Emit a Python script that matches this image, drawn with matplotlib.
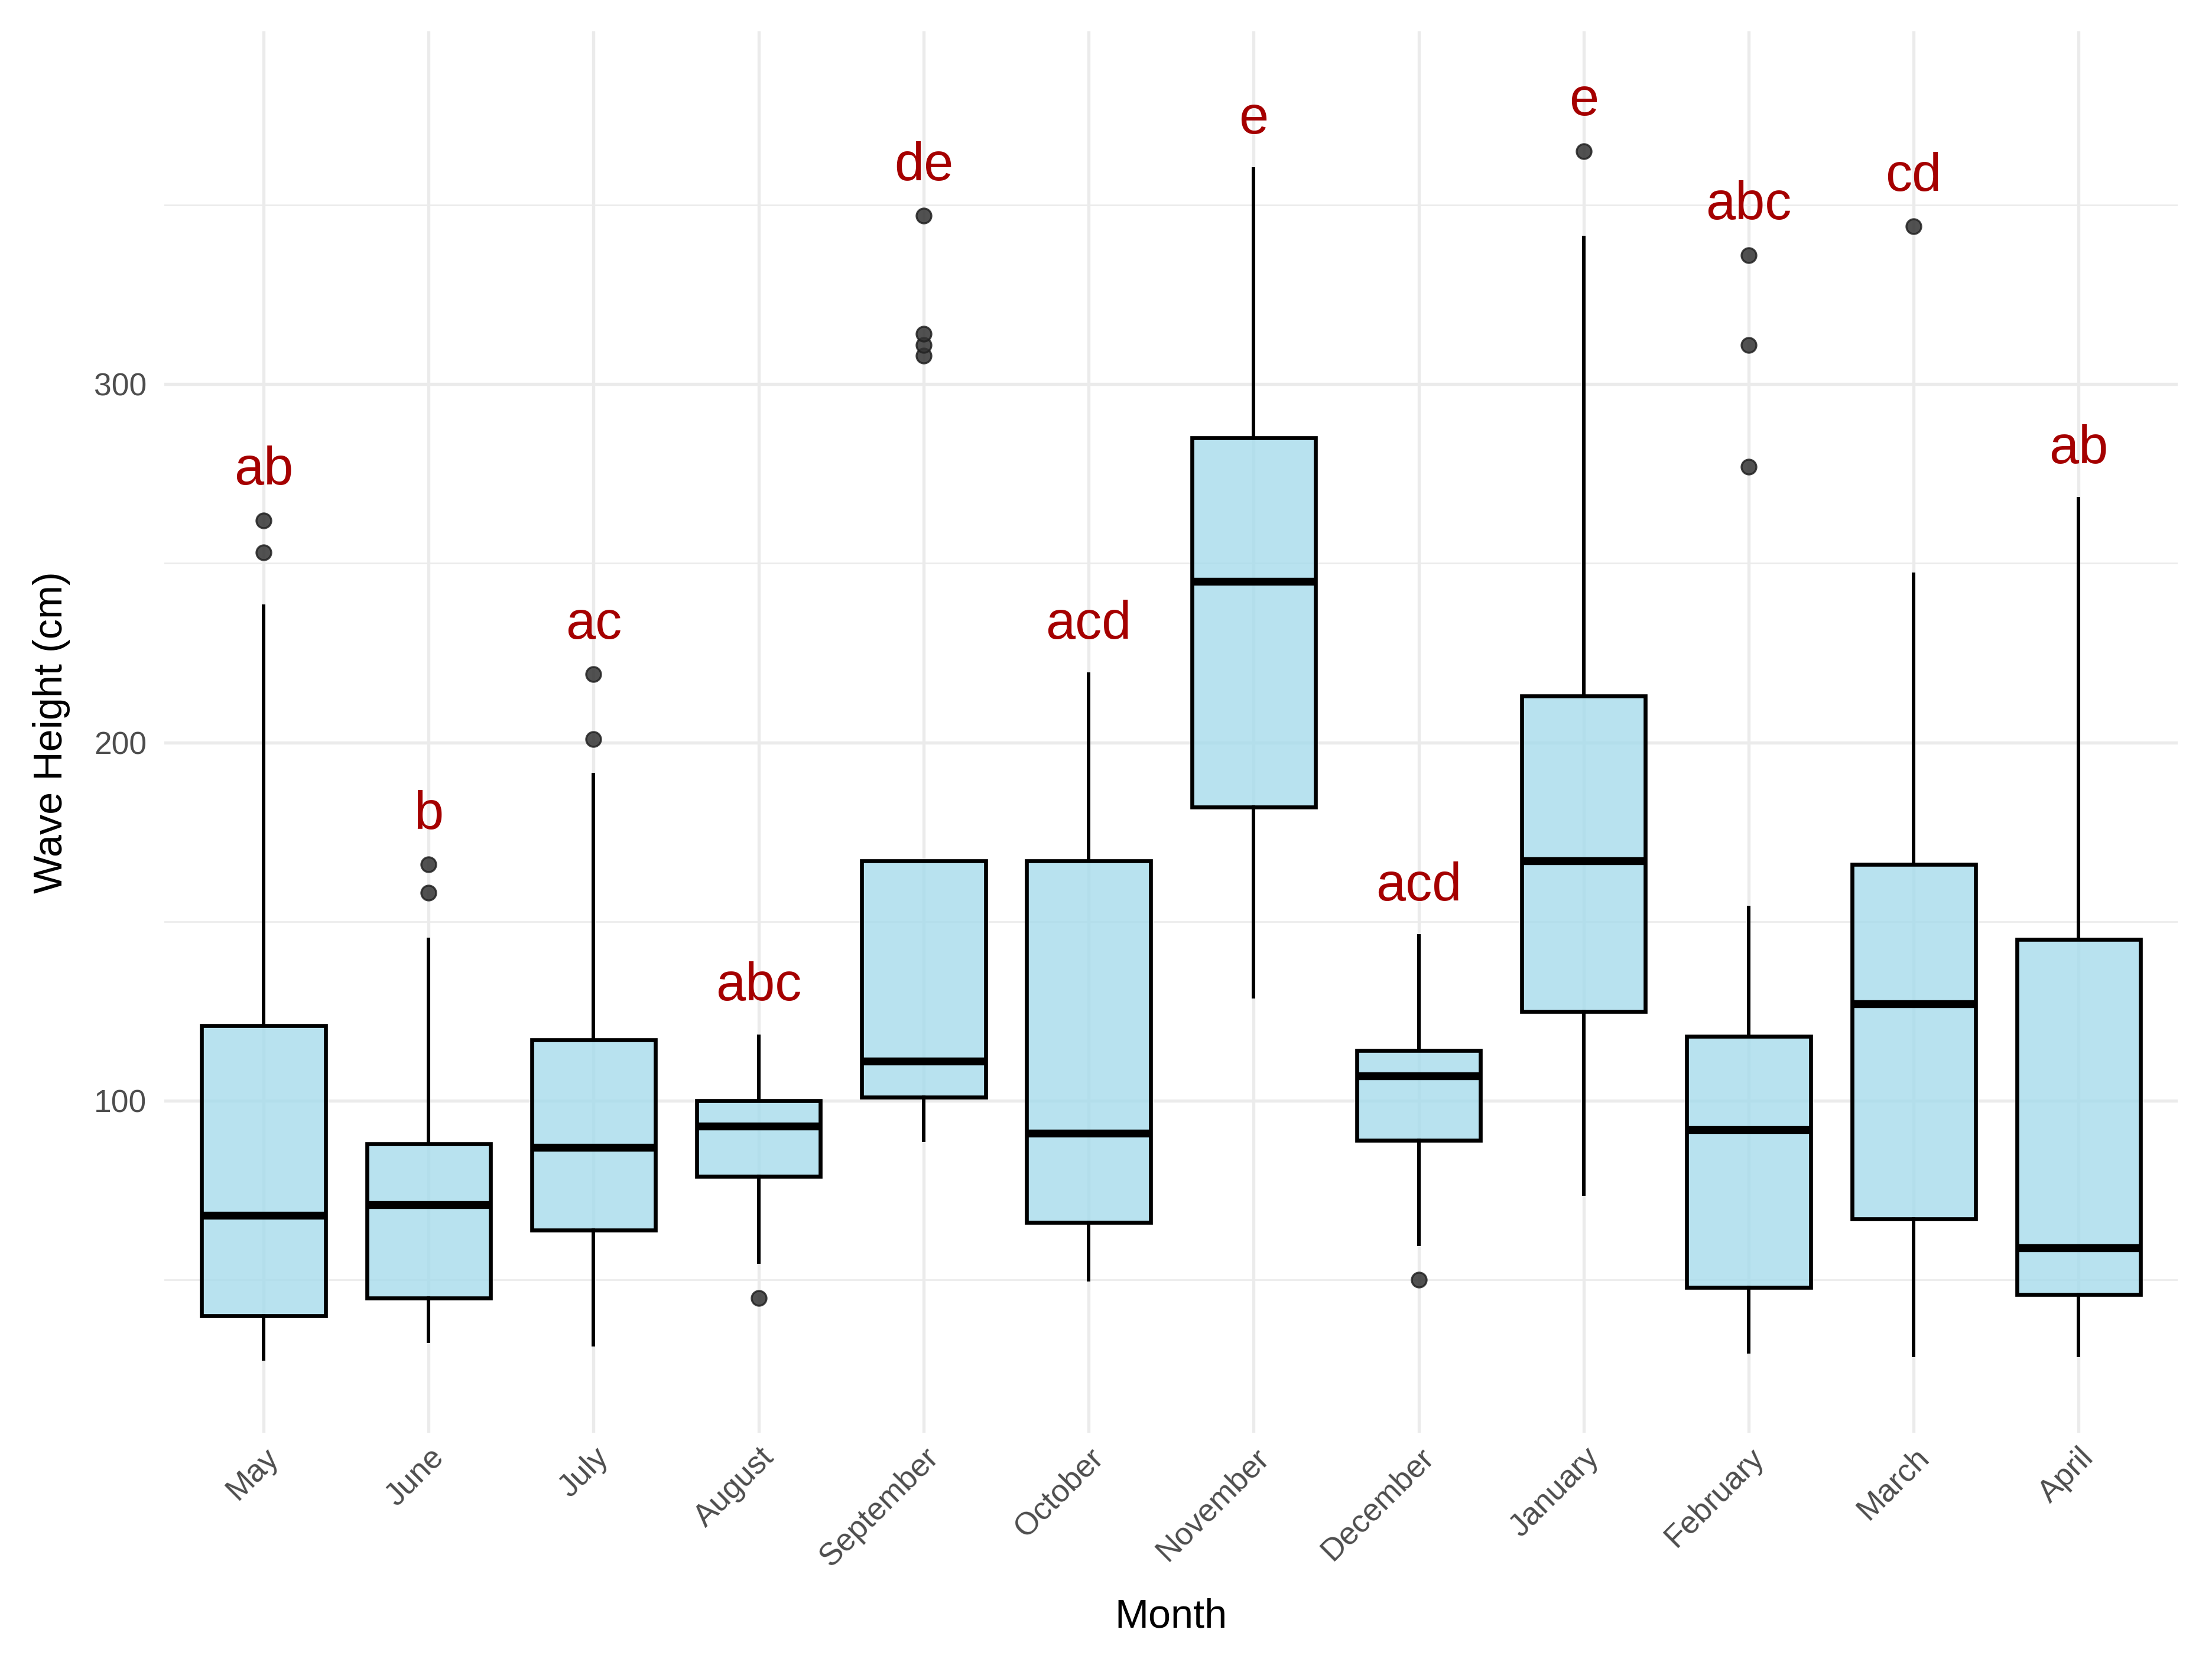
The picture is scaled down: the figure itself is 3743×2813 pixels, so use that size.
import matplotlib.pyplot as plt
from matplotlib.ticker import FixedLocator

plt.rcParams['font.family'] = ['Liberation Sans', 'DejaVu Sans']

months = ["May", "June", "July", "August", "September", "October",
          "November", "December", "January", "February", "March", "April"]

# box statistics (cm)
whislo = [28, 33, 32, 55, 89, 50, 129, 60, 74, 30, 29, 29]
q1 = [40, 45, 64, 79, 101, 66, 182, 89, 125, 48, 67, 46]
med = [68, 71, 87, 93, 111, 91, 245, 107, 167, 92, 127, 59]
q3 = [121, 88, 117, 100, 167, 167, 285, 114, 213, 118, 166, 145]
whishi = [238, 145, 191, 118, 167, 219, 360, 146, 341, 154, 247, 268]
fliers = [[253, 262], [158, 166], [201, 219], [45], [308, 311, 314, 347], [],
          [], [50], [365], [277, 311, 336], [344], []]

letters = ["ab", "b", "ac", "abc", "de", "acd", "e", "acd", "e", "abc", "cd", "ab"]

stats = []
for i in range(len(months)):
    stats.append({"whislo": whislo[i], "q1": q1[i], "med": med[i], "q3": q3[i],
                  "whishi": whishi[i], "fliers": fliers[i], "label": months[i]})

fig = plt.figure(figsize=(3743 / 240, 2813 / 240), dpi=240)
ax = fig.add_axes([0.0744, 0.138, 0.9101, 0.843])

pos = list(range(len(months)))
ax.bxp(stats, positions=pos, widths=0.75, patch_artist=True, showcaps=False,
       boxprops=dict(facecolor="#A6DBEB", edgecolor="black", linewidth=2.0),
       medianprops=dict(color="black", linewidth=4.0),
       whiskerprops=dict(color="black", linewidth=1.8),
       flierprops=dict(marker="o", markersize=7.5, markerfacecolor="#333333",
                       markeredgecolor="#222222", markeredgewidth=1.0, alpha=0.85),
       zorder=3)
for p in ax.patches:
    p.set_facecolor((166 / 255, 219 / 255, 235 / 255, 0.8))

for i, lab in enumerate(letters):
    top = max([whishi[i]] + fliers[i])
    ax.text(pos[i], top + 10, lab, color="#A50000", fontsize=27,
            ha="center", va="baseline", zorder=4)

ax.set_xlim(-0.6, len(months) - 0.4)
ax.set_ylim(7.4, 398.4)
ax.set_yticks([100, 200, 300])
ax.yaxis.set_minor_locator(FixedLocator([50, 150, 250, 350]))
ax.set_xticks(pos)
ax.set_xticklabels(months, rotation=45, ha="right", va="top",
                   rotation_mode="anchor")

ax.grid(True, which="major", color="#EBEBEB", linewidth=1.6, zorder=0)
ax.grid(True, which="minor", axis="y", color="#EBEBEB", linewidth=0.8, zorder=0)
ax.set_axisbelow(True)
for s in ax.spines.values():
    s.set_visible(False)
ax.tick_params(which="both", length=0, labelsize=16, labelcolor="#4D4D4D")
ax.tick_params(axis="y", pad=9)
ax.tick_params(axis="x", pad=5)

ax.set_xlabel("Month", fontsize=20.5, labelpad=13)
ax.set_ylabel("Wave Height (cm)", fontsize=20.5, labelpad=12)

fig.savefig("out.png", dpi=240, facecolor="white")
